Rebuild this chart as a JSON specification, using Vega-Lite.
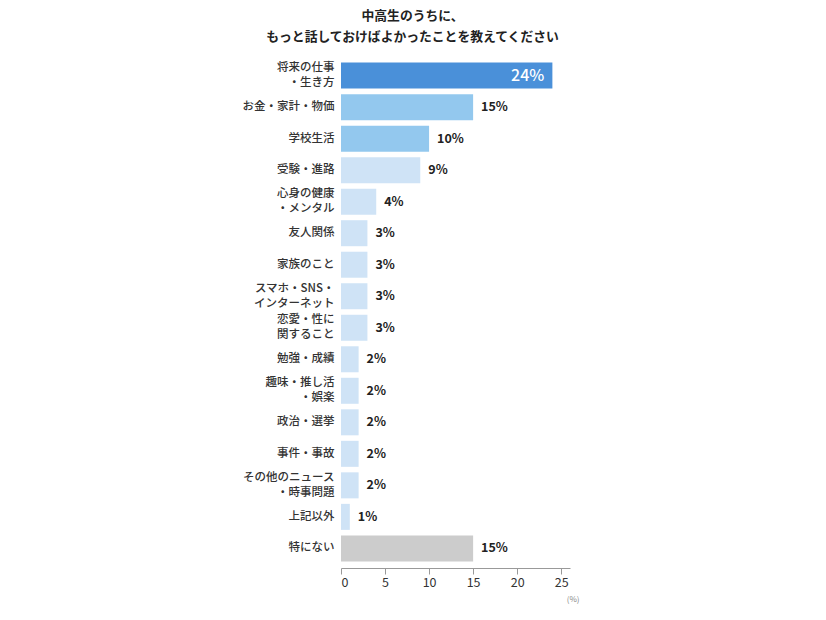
{
  "$schema": "https://vega.github.io/schema/vega-lite/v6.json",
  "width": 229,
  "height": 512,
  "autosize": {"type": "none"},
  "padding": {"left": 341, "top": 56, "right": 256, "bottom": 52},
  "background": "white",
  "config": {
    "font": "Noto Sans CJK JP",
    "view": {"stroke": null}
  },
  "title": {
    "text": ["中高生のうちに、", "もっと話しておけばよかったことを教えてください"],
    "fontSize": 12.8,
    "fontWeight": "bold",
    "color": "#222222",
    "anchor": "middle",
    "dx": -43,
    "offset": 12,
    "lineHeight": 21
  },
  "data": {
    "values": [
      {"item": "将来の仕事|・生き方", "value": 24},
      {"item": "お金・家計・物価", "value": 15},
      {"item": "学校生活", "value": 10},
      {"item": "受験・進路", "value": 9},
      {"item": "心身の健康|・メンタル", "value": 4},
      {"item": "友人関係", "value": 3},
      {"item": "家族のこと", "value": 3},
      {"item": "スマホ・SNS・|インターネット", "value": 3},
      {"item": "恋愛・性に|関すること", "value": 3},
      {"item": "勉強・成績", "value": 2},
      {"item": "趣味・推し活|・娯楽", "value": 2},
      {"item": "政治・選挙", "value": 2},
      {"item": "事件・事故", "value": 2},
      {"item": "その他のニュース|・時事問題", "value": 2},
      {"item": "上記以外", "value": 1},
      {"item": "特にない", "value": 15}
    ]
  },
  "transform": [{"calculate": "datum.value + '%'", "as": "label"}],
  "encoding": {
    "y": {
      "field": "item",
      "type": "nominal",
      "sort": null,
      "scale": {"paddingInner": 0.175, "paddingOuter": 0.21},
      "axis": {
        "title": null,
        "domain": false,
        "ticks": false,
        "labelPadding": 7,
        "labelFontSize": 11.5,
        "labelFontWeight": 500,
        "labelColor": "#333333",
        "labelLineHeight": 15,
        "labelExpr": "split(datum.label, '|')",
        "labelOffset": {"expr": "indexof(datum.value, '|') >= 0 ? -7.5 : 0"},
        "labelLimit": 200
      }
    }
  },
  "layer": [
    {
      "mark": {"type": "bar"},
      "encoding": {
        "x": {
          "field": "value",
          "type": "quantitative",
          "scale": {"domain": [0, 25]},
          "axis": {
            "values": [0, 5, 10, 15, 20, 25],
            "grid": false,
            "domainColor": "#999999",
            "tickColor": "#999999",
            "tickSize": 6,
            "labelFontSize": 12.5,
            "labelColor": "#333333",
            "labelPadding": 2,
            "title": "(%)",
            "titleFontSize": 8,
            "titleFontWeight": "normal",
            "titleColor": "#888888",
            "titleX": 238,
            "titleY": 27,
            "titleAlign": "right"
          }
        },
        "color": {
          "field": "item",
          "type": "nominal",
          "legend": null,
          "scale": {
            "domain": ["将来の仕事|・生き方", "お金・家計・物価", "学校生活", "受験・進路", "心身の健康|・メンタル", "友人関係", "家族のこと", "スマホ・SNS・|インターネット", "恋愛・性に|関すること", "勉強・成績", "趣味・推し活|・娯楽", "政治・選挙", "事件・事故", "その他のニュース|・時事問題", "上記以外", "特にない"],
            "range": ["#4a90d9", "#93c8ee", "#93c8ee", "#cfe3f6", "#cfe3f6", "#cfe3f6", "#cfe3f6", "#cfe3f6", "#cfe3f6", "#cfe3f6", "#cfe3f6", "#cfe3f6", "#cfe3f6", "#cfe3f6", "#cfe3f6", "#cccccc"]
          }
        }
      }
    },
    {
      "transform": [{"filter": "datum.value < 20"}],
      "mark": {"type": "text", "align": "left", "dx": 8, "fontSize": 12.5, "fontWeight": "bold", "color": "#222222"},
      "encoding": {
        "x": {"field": "value", "type": "quantitative"},
        "text": {"field": "label"}
      }
    },
    {
      "transform": [{"filter": "datum.value >= 20"}],
      "mark": {"type": "text", "align": "right", "dx": -8, "fontSize": 16, "fontWeight": 500, "color": "white"},
      "encoding": {
        "x": {"field": "value", "type": "quantitative"},
        "text": {"field": "label"}
      }
    }
  ]
}
